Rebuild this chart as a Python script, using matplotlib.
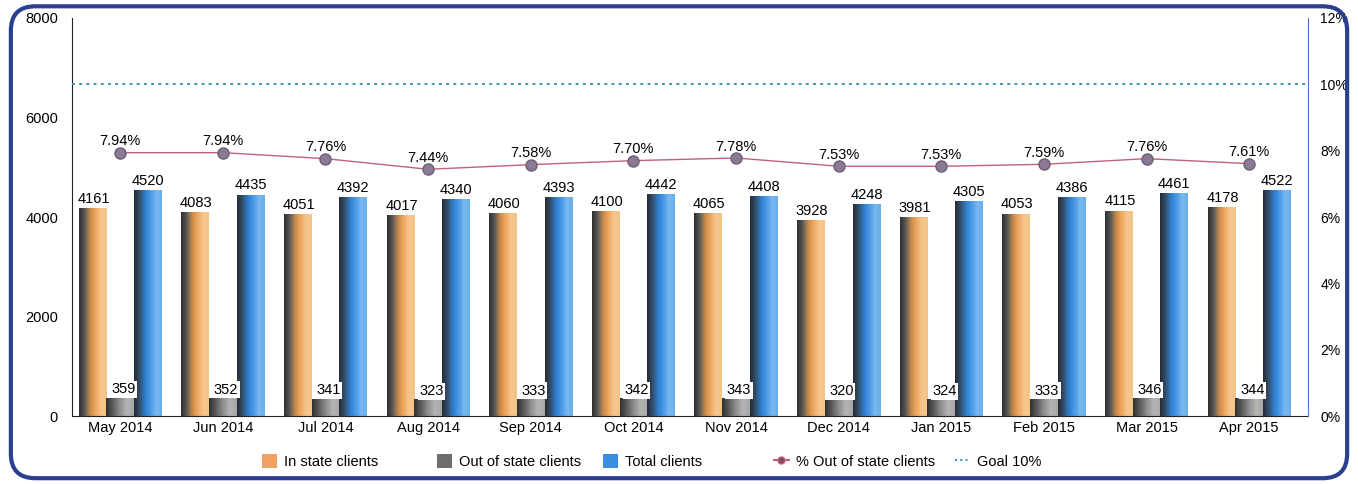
import numpy as np
import matplotlib.pyplot as plt
from matplotlib.colors import LinearSegmentedColormap
from matplotlib.patches import Patch, FancyBboxPatch
from matplotlib.lines import Line2D

plt.rcParams['font.family'] = ['Liberation Sans', 'DejaVu Sans']

months = ["May 2014", "Jun 2014", "Jul 2014", "Aug 2014", "Sep 2014", "Oct 2014",
          "Nov 2014", "Dec 2014", "Jan 2015", "Feb 2015", "Mar 2015", "Apr 2015"]
in_state = [4161, 4083, 4051, 4017, 4060, 4100, 4065, 3928, 3981, 4053, 4115, 4178]
out_state = [359, 352, 341, 323, 333, 342, 343, 320, 324, 333, 346, 344]
total = [4520, 4435, 4392, 4340, 4393, 4442, 4408, 4248, 4305, 4386, 4461, 4522]
pct_out = [7.94, 7.94, 7.76, 7.44, 7.58, 7.70, 7.78, 7.53, 7.53, 7.59, 7.76, 7.61]
goal = 10

# colour ramps for the shaded (cylinder-like) bars
cm_in = LinearSegmentedColormap.from_list("in", ["#2e2e2e", "#5a5a5a", "#c98a4a", "#f0a860", "#f6c690", "#f3c488"])
cm_out = LinearSegmentedColormap.from_list("out", ["#303030", "#5e5e5e", "#8e8e8e", "#b4b4b4", "#a8a8a8"])
cm_tot = LinearSegmentedColormap.from_list("tot", ["#262b36", "#34506e", "#2f7fd0", "#4a9ae8", "#7ab8f0", "#6aaee8"])

fig = plt.figure(figsize=(13.58, 4.84), dpi=100)
ax = fig.add_axes([0.053, 0.14, 0.91, 0.823])

x = np.arange(len(months))
w = 0.27
grad = np.linspace(0, 1, 64).reshape(1, -1)

def shaded_bars(xs, hs, cmap):
    for xi, h in zip(xs, hs):
        ax.imshow(grad, cmap=cmap, extent=[xi - w / 2, xi + w / 2, 0, h],
                  aspect='auto', zorder=2, interpolation='bicubic')

shaded_bars(x - w, in_state, cm_in)
shaded_bars(x, out_state, cm_out)
shaded_bars(x + w, total, cm_tot)

for i in x:
    ax.text(i - w + 0.01, in_state[i] + 60, str(in_state[i]), ha='center', va='bottom', fontsize=10.5)
    ax.text(i + 0.03, out_state[i] + 40, str(out_state[i]), ha='center', va='bottom', fontsize=10.5,
            bbox=dict(facecolor='white', edgecolor='none', pad=1), zorder=4)
    ax.text(i + w, total[i] + 60, str(total[i]), ha='center', va='bottom', fontsize=10.5)

ax.set_xlim(-0.47, len(months) - 0.43)
ax.set_ylim(0, 8000)
ax.set_yticks([0, 2000, 4000, 6000, 8000])
ax.set_xticks(x)
ax.set_xticklabels(months, fontsize=10.5)
ax.tick_params(axis='both', length=0, labelsize=10.5)
ax.tick_params(axis='y', pad=10)
ax.spines['top'].set_visible(False)
ax.spines['right'].set_visible(False)
ax.spines['left'].set_color('#222222')
ax.spines['bottom'].set_color('#222222')

ax2 = ax.twinx()
ax2.set_ylim(0, 12)
ax2.set_yticks([0, 2, 4, 6, 8, 10, 12])
ax2.set_yticklabels([f"{v}%" for v in [0, 2, 4, 6, 8, 10, 12]])
ax2.tick_params(axis='y', length=0, labelsize=10, pad=9)
for s in ['top', 'left', 'bottom']:
    ax2.spines[s].set_visible(False)
ax2.spines['right'].set_color('#4a78c8')

ax2.axhline(goal, color='#3a9ab0', linestyle=(0, (1.5, 2.2)), linewidth=1.4, zorder=3)
ax2.plot(x, pct_out, color='#c0607a', linewidth=1.0, marker='o', markersize=8,
         markerfacecolor='#8a7a92', markeredgecolor='#6e5e78', zorder=5)
for i in x:
    ax2.text(i, pct_out[i] + 0.13, f"{pct_out[i]:.2f}%", ha='center', va='bottom', fontsize=10.5, zorder=6)

# legend entries placed one by one (uneven spacing as in the source)
entries = [
    (Patch(facecolor='#f0a060', edgecolor='none'), 'In state clients', 0.193),
    (Patch(facecolor='#6e6e6e', edgecolor='none'), 'Out of state clients', 0.322),
    (Patch(facecolor='#3a8ee0', edgecolor='none'), 'Total clients', 0.444),
    (Line2D([], [], color='#c0607a', marker='o', markersize=5, markerfacecolor='#8a4a6a'),
     '% Out of state clients', 0.570),
    (Line2D([], [], color='#3a9ab0', linestyle=(0, (1, 1.5))), 'Goal 10%', 0.703),
]
for h, lab, xpos in entries:
    leg = fig.legend(handles=[h], labels=[lab], loc='center left', bbox_to_anchor=(xpos, 0.047),
                     frameon=False, fontsize=10.5, handlelength=1.0, handleheight=1.1,
                     handletextpad=0.5, borderpad=0, borderaxespad=0)

border = FancyBboxPatch((0.008, 0.012), 0.984, 0.975, boxstyle="round,pad=0,rounding_size=0.018",
                        transform=fig.transFigure, facecolor='none', edgecolor='#2b3f8f', linewidth=3,
                        mutation_aspect=2.8)
fig.patches.append(border)

fig.savefig("out.png", dpi=100)
